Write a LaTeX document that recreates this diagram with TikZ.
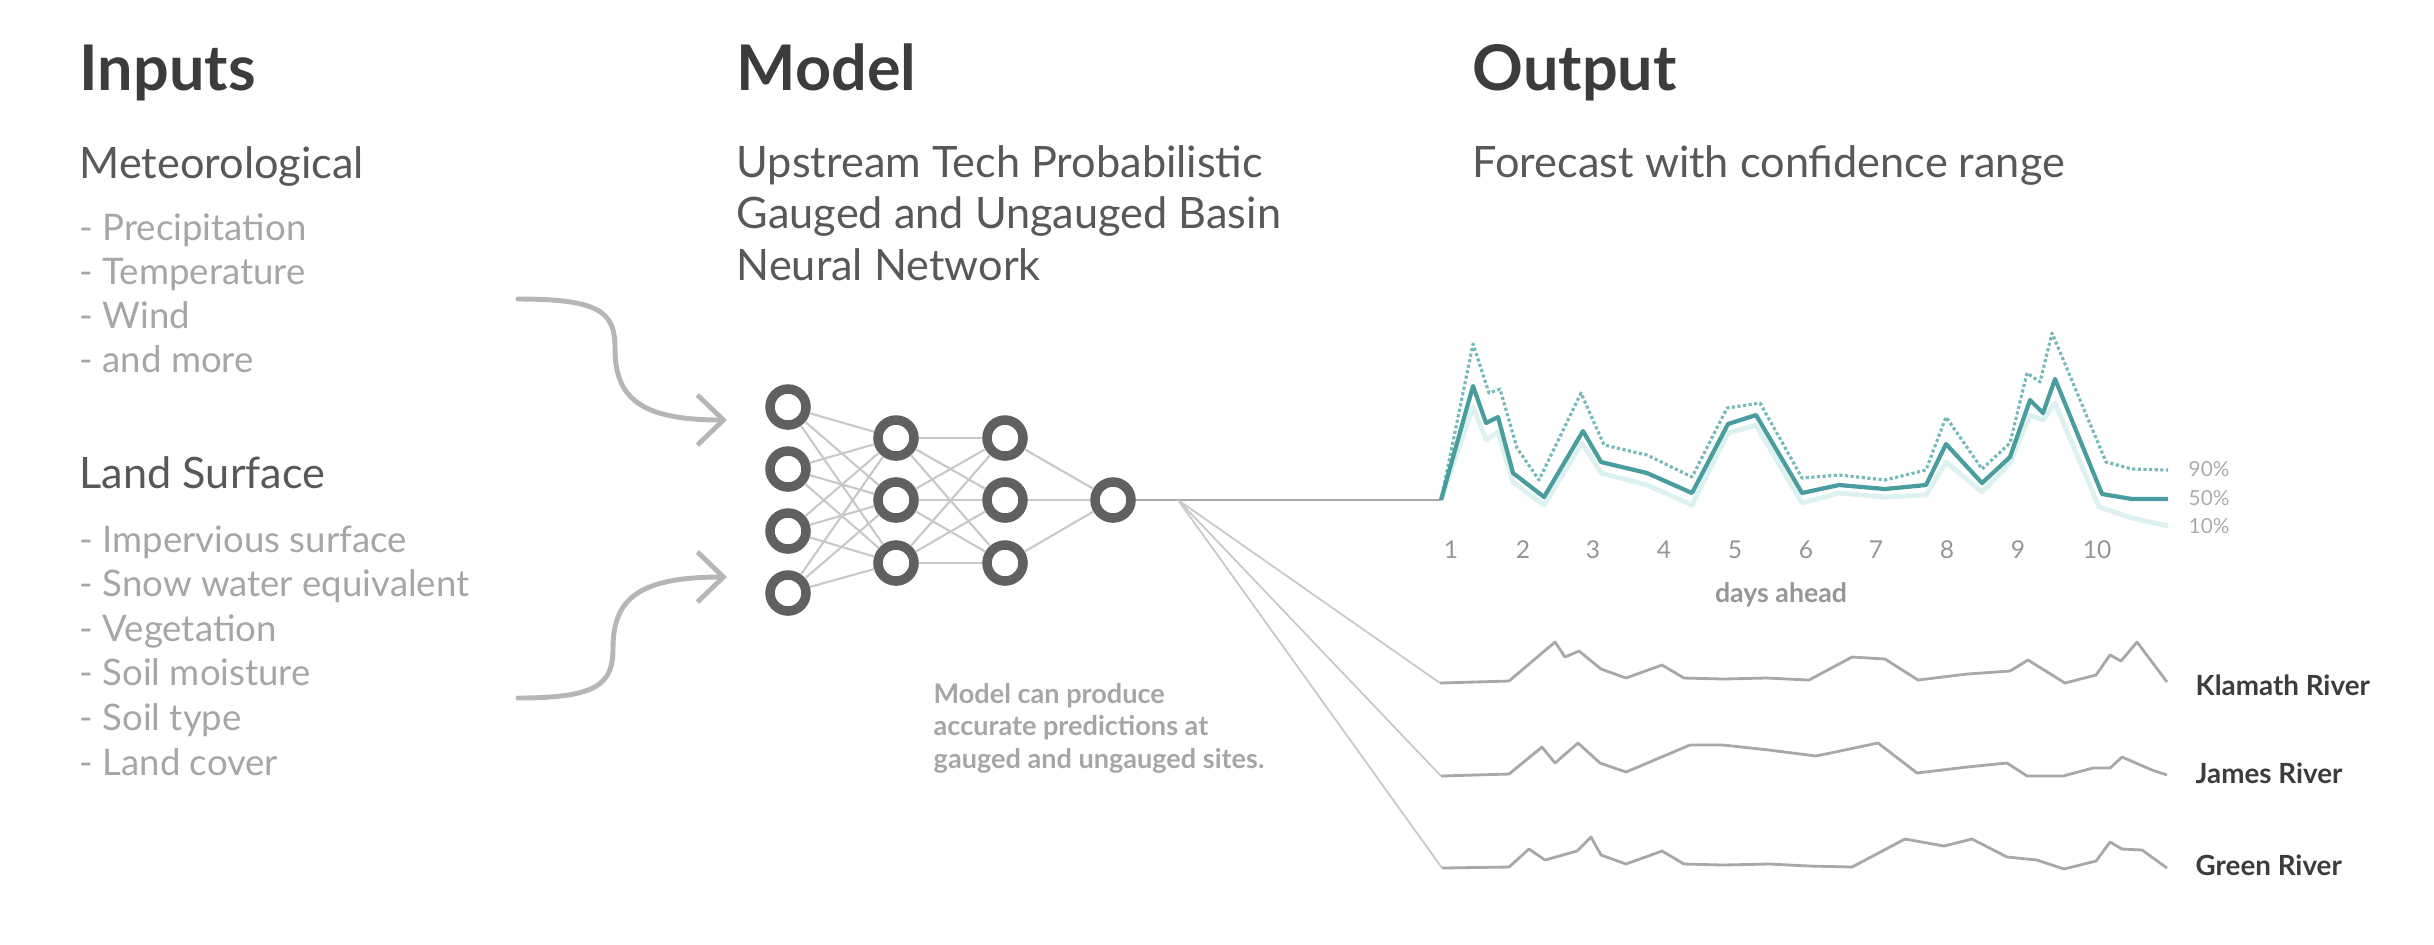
\documentclass[tikz,border=0pt]{standalone}
\usepackage{fontspec}
\setmainfont{Lato}
\usetikzlibrary{arrows.meta}
\definecolor{headgray}{RGB}{60,60,60}
\definecolor{subgray}{RGB}{88,88,88}
\definecolor{itemgray}{RGB}{166,166,166}
\definecolor{nngray}{RGB}{96,96,96}
\definecolor{wiregray}{RGB}{200,200,200}
\definecolor{flowgray}{RGB}{182,182,182}
\definecolor{rivgray}{RGB}{168,168,168}
\definecolor{tickgray}{RGB}{150,150,150}
\definecolor{tealmid}{RGB}{74,157,158}
\definecolor{tealhi}{RGB}{120,186,186}
\definecolor{teallo}{RGB}{222,241,241}

\begin{document}
\begin{tikzpicture}[x=0.01cm, y=-0.01cm,
  head/.style={anchor=base west, inner sep=0, text=headgray, font=\fontsize{17.9}{20}\selectfont\bfseries},
  sub/.style={anchor=base west, inner sep=0, text=subgray, font=\fontsize{12.3}{14}\selectfont},
  item/.style={anchor=base west, inner sep=0, text=itemgray, font=\fontsize{10.4}{12}\selectfont},
  note/.style={anchor=base west, inner sep=0, text=itemgray, font=\fontsize{7.7}{9}\selectfont\bfseries},
  river label/.style={anchor=base west, inner sep=0, text=headgray, font=\fontsize{7.9}{9}\selectfont\bfseries},
  tick/.style={anchor=base, inner sep=0, text=tickgray, font=\fontsize{7}{8}\selectfont},
  pct/.style={anchor=base west, inner sep=0, text=tickgray!80, font=\fontsize{5.9}{7}\selectfont},
  neuron/.style={circle, draw=nngray, line width=2.7pt, minimum size=0.36cm, inner sep=0},
  wire/.style={draw=wiregray, line width=0.6pt},
  flow/.style={draw=flowgray, line width=1.4pt, line cap=round, -{Straight Barb[length=2.6mm, width=5mm]}},
  river/.style={draw=rivgray, line width=0.8pt, line join=round},
  fan/.style={draw=wiregray, line width=0.5pt}]
\useasboundingbox (0,0) rectangle (2434,944);

\node[head] (inputs) at (79,90) {Inputs};
\node[head] (model) at (736,90) {Model};
\node[head] (output) at (1472,90) {Output};

\node[sub] (met) at (79,178) {Meteorological};
\foreach \t [count=\i] in {Precipitation,Temperature,Wind,and more}
  \node[item] (met\i) at (79,{240+44.3*(\i-1)}) {- \t};
\node[sub] (land) at (79,488) {Land Surface};
\foreach \t [count=\i] in {Impervious surface,Snow water equivalent,Vegetation,Soil moisture,Soil type,Land cover}
  \node[item] (land\i) at (79,{552+44.6*(\i-1)}) {- \t};

\foreach \t [count=\i] in {Upstream Tech Probabilistic,Gauged and Ungauged Basin,Neural Network}
  \node[sub] (mdl\i) at (736,{177+51.5*(\i-1)}) {\t};
\node[sub] (fcst) at (1472,177) {Forecast with confidence range};

\foreach \t [count=\i] in {Model can produce,accurate predictions at,gauged and ungauged sites.}
  \node[note] (note\i) at (933,{703+32.5*(\i-1)}) {\t};

% inputs into the network
\coordinate (metStart) at (518,299);
\coordinate (metEnd) at (727,420);
\coordinate (landStart) at (518,698);
\coordinate (landEnd) at (727,577);
\draw[flow] (metStart) .. controls (600,299) and (615,312) .. (615,348)
  .. controls (615,398) and (640,420) .. (metEnd);
\draw[flow] (landStart) .. controls (598,698) and (613,684) .. (613,648)
  .. controls (613,598) and (640,577) .. (landEnd);

% network
\foreach \i/\y in {1/407,2/469,3/531,4/593}
  \node[neuron] (a\i) at (788,\y) {};
\foreach \i/\y in {1/438,2/500,3/563} {
  \node[neuron] (b\i) at (896,\y) {};
  \node[neuron] (c\i) at (1005,\y) {};
}
\node[neuron] (o) at (1113,500) {};
\foreach \i in {1,...,4}
  \foreach \j in {1,2,3}
    \draw[wire] (a\i) -- (b\j);
\foreach \i in {1,2,3} {
  \foreach \j in {1,2,3}
    \draw[wire] (b\i) -- (c\j);
  \draw[wire] (c\i) -- (o);
}

\coordinate (chart0) at (1441,500);
\coordinate (fork) at (1178,500);
\coordinate (klam0) at (1440,683);
\coordinate (jam0) at (1441,776);
\coordinate (grn0) at (1442,868);
\draw[draw=rivgray, line width=0.7pt] (o) -- (chart0);
\foreach \r in {klam,jam,grn}
  \draw[fan] (fork) -- (\r0);

% forecast with bands
\draw[teallo, line width=1.4pt, line join=round] (chart0) -- (1473,407) -- (1486,440) -- (1498,432)
  -- (1513,482) -- (1544,505) -- (1582,443) -- (1601,473) -- (1647,485) -- (1692,505)
  -- (1728,433) -- (1756,425) -- (1802,503) -- (1839,493) -- (1885,497) -- (1926,495)
  -- (1946,462) -- (1982,492) -- (2010,463) -- (2030,415) -- (2043,420) -- (2055,403)
  -- (2099,507) -- (2132,518) -- (2168,526);
\draw[tealhi, line width=0.9pt, dash pattern=on 0.9pt off 0.7pt, line join=round] (chart0) -- (1473,344)
  -- (1489,393) -- (1500,389) -- (1517,448) -- (1539,480) -- (1581,393) -- (1604,445)
  -- (1647,455) -- (1692,477) -- (1727,408) -- (1760,403) -- (1802,478) -- (1839,475)
  -- (1885,480) -- (1926,470) -- (1946,417) -- (1982,469) -- (2010,443) -- (2027,373)
  -- (2040,382) -- (2052,333) -- (2106,462) -- (2132,469) -- (2168,470);
\draw[tealmid, line width=1.2pt, line join=round] (chart0) -- (1473,386) -- (1486,423) -- (1498,417)
  -- (1513,473) -- (1544,497) -- (1583,431) -- (1601,462) -- (1647,473) -- (1692,493)
  -- (1728,424) -- (1756,415) -- (1802,493) -- (1839,485) -- (1885,489) -- (1926,485)
  -- (1946,444) -- (1982,483) -- (2010,457) -- (2030,400) -- (2043,413) -- (2055,379)
  -- (2102,494) -- (2132,499) -- (2168,499);
\node[pct] (p90) at (2188,476) {90\%};
\node[pct] (p50) at (2188,505) {50\%};
\node[pct] (p10) at (2188,533) {10\%};
\foreach \d/\x in {1/1451,2/1523,3/1593,4/1664,5/1735,6/1806,7/1876,8/1947,9/2018,10/2097}
  \node[tick] (day\d) at (\x,558) {\d};
\node[tick, font=\fontsize{7.6}{9}\selectfont\bfseries] (days) at (1781,602) {days ahead};

% river series
\draw[river] (klam0) -- (1509,681) -- (1555,642) -- (1565,657) -- (1579,651) -- (1601,669)
  -- (1626,678) -- (1662,665) -- (1684,678) -- (1723,679) -- (1766,678) -- (1809,680)
  -- (1852,657) -- (1885,659) -- (1918,680) -- (1967,674) -- (2010,671) -- (2028,660)
  -- (2065,683) -- (2096,675) -- (2110,655) -- (2121,661) -- (2137,642) -- (2167,682);
\draw[river] (jam0) -- (1509,774) -- (1542,747) -- (1555,763) -- (1578,743) -- (1600,763)
  -- (1626,772) -- (1690,745) -- (1723,745) -- (1769,750) -- (1816,756) -- (1878,743)
  -- (1917,773) -- (1967,767) -- (2007,763) -- (2027,776) -- (2063,776) -- (2093,768)
  -- (2110,768) -- (2122,757) -- (2152,770) -- (2167,775);
\draw[river] (grn0) -- (1509,867) -- (1529,849) -- (1545,860) -- (1577,851) -- (1591,837)
  -- (1601,855) -- (1626,864) -- (1662,851) -- (1684,864) -- (1723,865) -- (1769,864)
  -- (1809,866) -- (1852,867) -- (1905,839) -- (1944,846) -- (1972,839) -- (2007,857)
  -- (2037,860) -- (2064,869) -- (2096,861) -- (2110,842) -- (2122,849) -- (2142,850)
  -- (2167,868);
\node[river label] (klam) at (2195,695) {Klamath River};
\node[river label] (jam) at (2195,783) {James River};
\node[river label] (grn) at (2195,875) {Green River};
\end{tikzpicture}
\end{document}
